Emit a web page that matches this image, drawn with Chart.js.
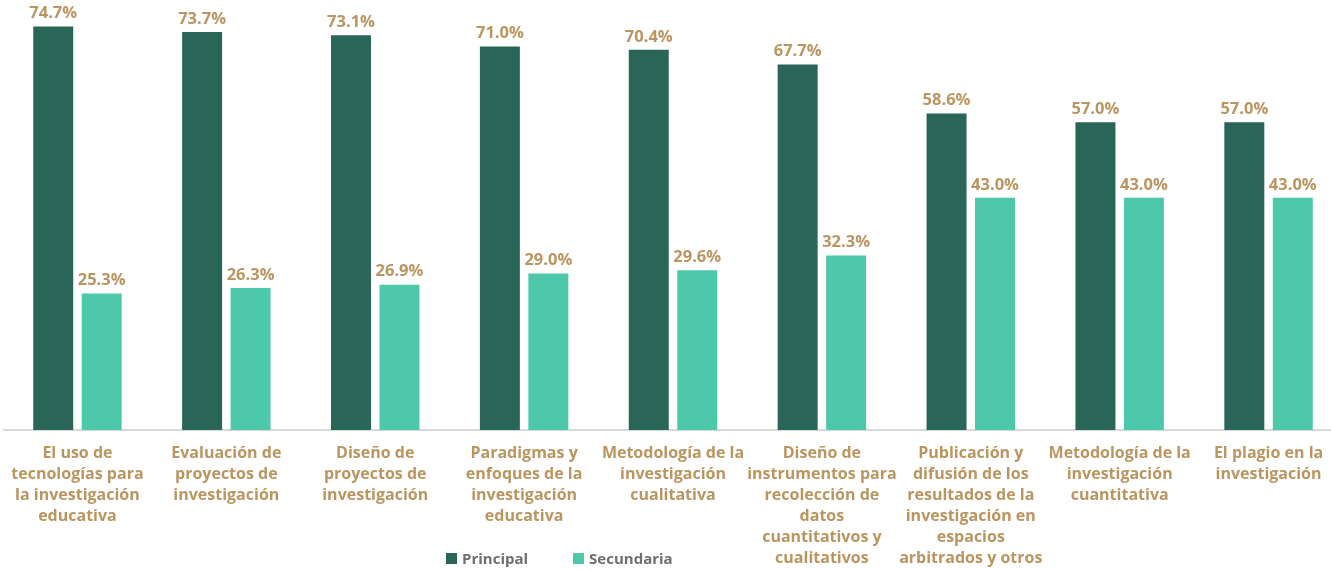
<!DOCTYPE html>
<html>
<head>
<meta charset="utf-8">
<script src="https://cdn.jsdelivr.net/npm/chart.js@4"></script>
<style>
	html, body { margin: 0; padding: 0; background: #fff; overflow: hidden; }
	#wrap { position: absolute; left: 3px; top: -2px; width: 1340px; height: 571px; }
	#legend { position: absolute; top: 548px; left: 446px; font: 700 15px "Open Sans", sans-serif; color: #6e6e6e; display: flex; }
	#legend span.item { display: flex; align-items: center; margin-right: 45px; }
	#legend span.box { width: 11px; height: 11px; margin-right: 5px; display: inline-block; }
</style>
</head>
<body>
<div id="wrap"><canvas id="chart"></canvas></div>
<div id="legend"></div>
<script>
const categories = [
	["El uso de", "tecnologías para", "la investigación", "educativa"],
	["Evaluación de", "proyectos de", "investigación"],
	["Diseño de", "proyectos de", "investigación"],
	["Paradigmas y", "enfoques de la", "investigación", "educativa"],
	["Metodología de la", "investigación", "cualitativa"],
	["Diseño de", "instrumentos para", "recolección de", "datos", "cuantitativos y", "cualitativos"],
	["Publicación y", "difusión de los", "resultados de la", "investigación en", "espacios", "arbitrados y otros"],
	["Metodología de la", "investigación", "cuantitativa"],
	["El plagio en la", "investigación"],
];
const principal = [74.7, 73.7, 73.1, 71.0, 70.4, 67.7, 58.6, 57.0, 57.0];
const secundaria = [25.3, 26.3, 26.9, 29.0, 29.6, 32.3, 43.0, 43.0, 43.0];
const seriesNames = ["Principal", "Secundaria"];
const seriesColors = ["#2a6658", "#4ec8ab"];

const gold = "#bb955f";
const labelFont = "Open Sans";

const valueLabels = {
	id: "valueLabels",
	afterDatasetsDraw(chart) {
		const ctx = chart.ctx;
		ctx.save();
		ctx.font = "700 16.5px '" + labelFont + "'";
		ctx.fillStyle = gold;
		ctx.textAlign = "center";
		ctx.textBaseline = "middle";
		chart.data.datasets.forEach((ds, i) => {
			chart.getDatasetMeta(i).data.forEach((bar, j) => {
				ctx.fillText(ds.data[j].toFixed(1) + "%", bar.x, bar.y - 13);
			});
		});
		ctx.restore();
	},
};

const chart = new Chart(document.getElementById("chart").getContext("2d"), {
	type: "bar",
	data: {
		labels: categories,
		datasets: [
			{
				label: seriesNames[0],
				data: principal,
				backgroundColor: seriesColors[0],
				borderWidth: 0,
			},
			{
				label: seriesNames[1],
				data: secundaria,
				backgroundColor: seriesColors[1],
				borderWidth: 0,
			},
		],
	},
	options: {
		responsive: true,
		maintainAspectRatio: false,
		animation: false,
		datasets: {
			bar: { categoryPercentage: 0.651, barPercentage: 0.825 },
		},
		layout: { padding: 0 },
		scales: {
			x: {
				grid: { display: false },
				border: { color: "#d9d9d9", width: 2 },
				ticks: {
					color: gold,
					font: { family: labelFont, size: 16, weight: 700, lineHeight: 1.31 },
					padding: 5,
					maxRotation: 0,
					autoSkip: false,
				},
				afterFit(scale) {
					scale.height = 139;
				},
			},
			y: {
				display: false,
				min: 0,
				max: 80,
			},
		},
		plugins: {
			legend: { display: false },
			tooltip: { enabled: false },
		},
	},
	plugins: [valueLabels],
});

// legend built from the series arrays
const legend = document.getElementById("legend");
seriesNames.forEach((name, i) => {
	const item = document.createElement("span");
	item.className = "item";
	const box = document.createElement("span");
	box.className = "box";
	box.style.background = seriesColors[i];
	item.appendChild(box);
	item.appendChild(document.createTextNode(name));
	legend.appendChild(item);
});
</script>
</body>
</html>
